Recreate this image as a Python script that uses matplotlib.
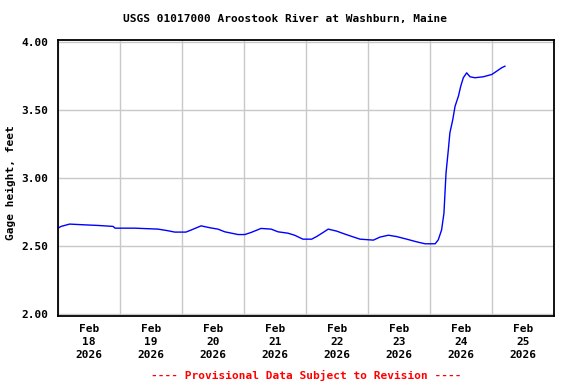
"""USGS-style gage height plot: Aroostook River at Washburn, Maine."""

import matplotlib

matplotlib.use("Agg")
import matplotlib.pyplot as plt
import pandas as pd

# Hours after 2026-02-18 00:00 and gage height.
hours = [
    0, 1.2, 4.5, 9.7, 15.5, 21.3, 22.1, 29.7, 38.7, 42.6, 45.2, 49.5, 51.5,
    55.4, 58.8, 61.9, 64.6, 69.7, 72.3, 74.7, 78.6, 82.5, 85.2, 89.0, 91.6,
    94.8, 98.2, 100.1, 102.6, 104.6, 107.9, 111.1, 114.2, 116.9, 122.1, 124.6,
    127.9, 131.1, 135.0, 138.9, 142.1, 146.0, 147.2, 148.5, 149.4, 150.2,
    151.1, 151.7, 152.8, 153.7, 155.0, 155.9, 156.9, 158.2, 159.5, 161.4,
    164.6, 167.9, 169.8, 171.7, 173.0,
]
gage_ft = [
    2.632, 2.645, 2.662, 2.657, 2.652, 2.645, 2.632, 2.632, 2.625, 2.613,
    2.603, 2.603, 2.618, 2.649, 2.635, 2.625, 2.605, 2.585, 2.585, 2.600,
    2.630, 2.625, 2.605, 2.595, 2.580, 2.551, 2.551, 2.570, 2.600, 2.625,
    2.610, 2.588, 2.568, 2.551, 2.544, 2.566, 2.580, 2.570, 2.551, 2.531,
    2.517, 2.517, 2.546, 2.620, 2.743, 3.038, 3.210, 3.334, 3.430, 3.530,
    3.604, 3.678, 3.740, 3.776, 3.747, 3.740, 3.747, 3.764, 3.788, 3.813,
    3.825,
]
day_labels = ["Feb\n18\n2026", "Feb\n19\n2026", "Feb\n20\n2026", "Feb\n21\n2026",
              "Feb\n22\n2026", "Feb\n23\n2026", "Feb\n24\n2026", "Feb\n25\n2026"]
y_ticks = [2.0, 2.5, 3.0, 3.5, 4.0]

START = pd.Timestamp("2026-02-18")
MONO = "DejaVu Sans Mono"

times = START + pd.to_timedelta(hours, unit="h")
midnights = pd.date_range(START, periods=9, freq="D")
noons = midnights[:-1] + pd.Timedelta(hours=12)

plt.rcParams["font.family"] = MONO
plt.rcParams["font.weight"] = "bold"

fig = plt.figure(figsize=(5.76, 3.84), dpi=100)
ax = fig.add_axes([58 / 576, 1 - 316 / 384, 496 / 576, 276 / 384])

ax.plot(times, gage_ft, color="#0000ff", linewidth=1.0)

ax.set_xlim(midnights[0], midnights[-1])
ax.set_ylim(1.985, 4.018)

ax.set_xticks(midnights)
ax.set_xticklabels([""] * len(midnights))
ax.set_xticks(noons, minor=True)
ax.set_xticklabels(day_labels, minor=True, fontsize=8, fontweight="bold",
                   linespacing=1.35)
ax.set_yticks(y_ticks)
ax.set_yticklabels([f"{v:.2f}" for v in y_ticks], fontsize=8, fontweight="bold")
ax.tick_params(axis="both", which="both", length=0)
ax.tick_params(axis="y", pad=7)
ax.tick_params(axis="x", which="minor", pad=6)

ax.grid(True, which="major", color="#c8c8c8", linewidth=1.0)
ax.set_axisbelow(True)
for spine in ax.spines.values():
    spine.set_linewidth(1.3)
    spine.set_color("black")

fig.text(0.495, 1 - 19 / 384, "USGS 01017000 Aroostook River at Washburn, Maine",
         ha="center", va="center", fontsize=8, fontweight="bold")
fig.text(11 / 576, 1 - 183 / 384, "Gage height, feet", rotation=90,
         ha="center", va="center", fontsize=8, fontweight="bold")
fig.text(306 / 576, 1 - 375 / 384, "---- Provisional Data Subject to Revision ----",
         ha="center", va="center", fontsize=8, fontweight="bold", color="#ff0000")

fig.savefig("out.png", dpi=100)
